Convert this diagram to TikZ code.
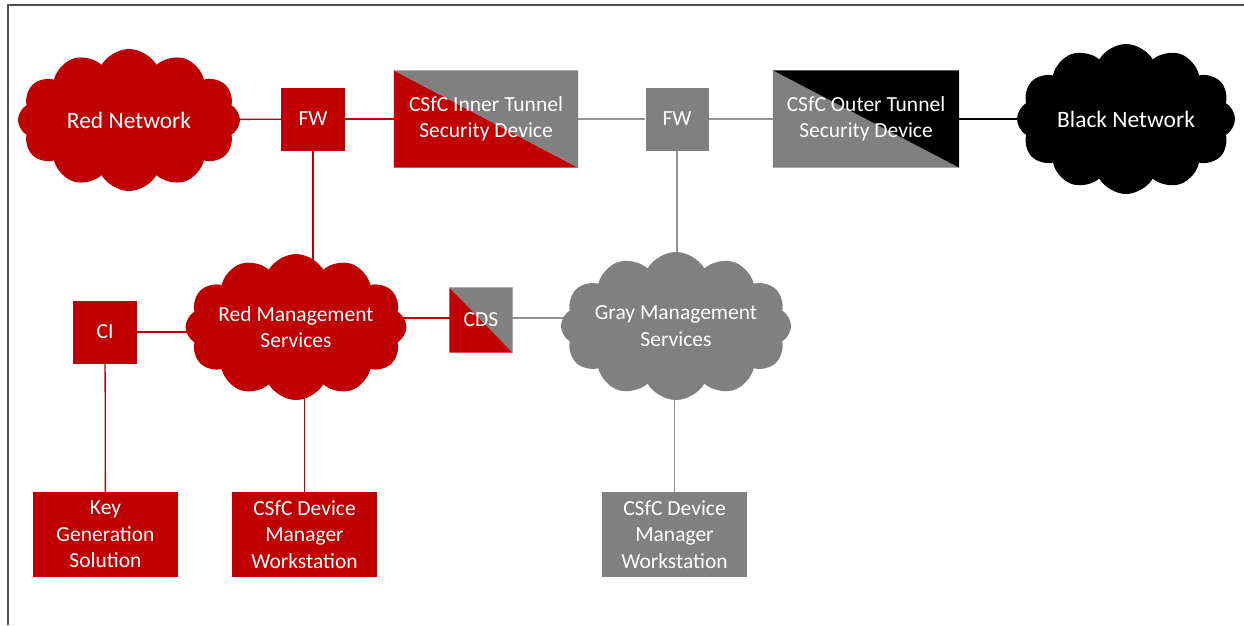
\documentclass[tikz,border=0pt]{standalone}
\usepackage{fontspec}
\setmainfont{Carlito}
\usetikzlibrary{shapes.symbols,backgrounds}
\definecolor{cred}{HTML}{C00000}
\definecolor{cgray}{HTML}{808080}
\definecolor{cframe}{HTML}{505050}
\tikzset{
  txt/.style={text=white,font=\fontsize{21.5}{26.5}\selectfont,align=center,inner sep=0pt},
  boxr/.style={txt,rectangle,fill=cred},
  boxg/.style={txt,rectangle,fill=cgray},
  splitbox/.style={txt,rectangle},
  cloudn/.style={txt,cloud,cloud puffs=12,cloud puff arc=120,cloud ignores aspect,inner sep=0pt},
  redline/.style={draw=cred,line width=1.3pt},
  grayline/.style={draw=cgray!85,line width=1.3pt},
  blackline/.style={draw=black,line width=1.3pt},
}
\begin{document}
\begin{tikzpicture}[x=1pt,y=-1pt]
\useasboundingbox (0,0) rectangle (1244,625);
\draw[cframe,line width=1.5pt] (8,625) -- (8,5) -- (1244,5);

% nodes
\node[cloudn,fill=cred,minimum width=222pt,minimum height=142pt,font=\fontsize{23.5}{26}\selectfont] (rednet) at (129,120) {Red Network};
\node[boxr,minimum width=64pt,minimum height=63pt] (fwr) at (313,119) {FW};
\node[splitbox,minimum width=184pt,minimum height=97pt] (inner) at (486,119) {CSfC Inner Tunnel\\Security Device};
\node[boxg,minimum width=63pt,minimum height=63pt] (fwg) at (677,119) {FW};
\node[splitbox,minimum width=186pt,minimum height=97pt] (outer) at (866,119) {CSfC Outer Tunnel\\Security Device};
\node[cloudn,fill=black,minimum width=218pt,minimum height=150pt,font=\fontsize{23.5}{26}\selectfont] (blacknet) at (1126,119) {Black Network};

\node[cloudn,fill=cred,minimum width=217pt,minimum height=146pt] (redmgmt) at (296,327) {Red Management\\Services};
\node[boxr,minimum width=64pt,minimum height=63pt] (ci) at (105,332) {CI};
\node[splitbox,minimum width=63pt,minimum height=65pt] (cds) at (481,320) {CDS};
\node[cloudn,fill=cgray,minimum width=218pt,minimum height=148pt] (graymgmt) at (676,326) {Gray Management\\Services};

\node[boxr,minimum width=145pt,minimum height=85pt] (keygen) at (105.5,534.5) {Key\\Generation\\Solution};
\node[boxr,minimum width=145pt,minimum height=85pt] (rws) at (304.5,534.5) {CSfC Device\\Manager\\Workstation};
\node[boxg,minimum width=145pt,minimum height=85pt] (gws) at (674.5,534.5) {CSfC Device\\Manager\\Workstation};

% connectors and split fills
\begin{scope}[on background layer]
\draw[redline] (rednet) -- (fwr);
\draw[redline] (fwr) -- (inner);
\draw[grayline] (inner) -- (fwg);
\draw[grayline] (fwg) -- (outer);
\draw[blackline] (outer) -- (blacknet);
\draw[redline] (fwr) -- (fwr |- redmgmt.center);
\draw[grayline] (fwg) -- (fwg |- graymgmt.center);
\draw[redline] (ci) -- (ci -| redmgmt.center);
\draw[redline] (ci) -- (keygen);
\draw[redline] (rws) -- (rws |- redmgmt.center);
\draw[grayline] (gws) -- (gws |- graymgmt.center);
\draw[redline] ([yshift=2pt]cds.center) -- ([yshift=2pt]cds.center -| redmgmt.center);
\draw[grayline] ([yshift=2pt]cds.center) -- ([yshift=2pt]cds.center -| graymgmt.center);
\fill[cred] (inner.north west) -- (inner.south west) -- (inner.south east) -- cycle;
\fill[cgray] (inner.north west) -- (inner.north east) -- (inner.south east) -- cycle;
\fill[cgray] (outer.north west) -- (outer.south west) -- (outer.south east) -- cycle;
\fill[black] (outer.north west) -- (outer.north east) -- (outer.south east) -- cycle;
\fill[cred] (cds.north west) -- (cds.south west) -- (cds.south east) -- cycle;
\fill[cgray] (cds.north west) -- (cds.north east) -- (cds.south east) -- cycle;
\end{scope}
\end{tikzpicture}
\end{document}
